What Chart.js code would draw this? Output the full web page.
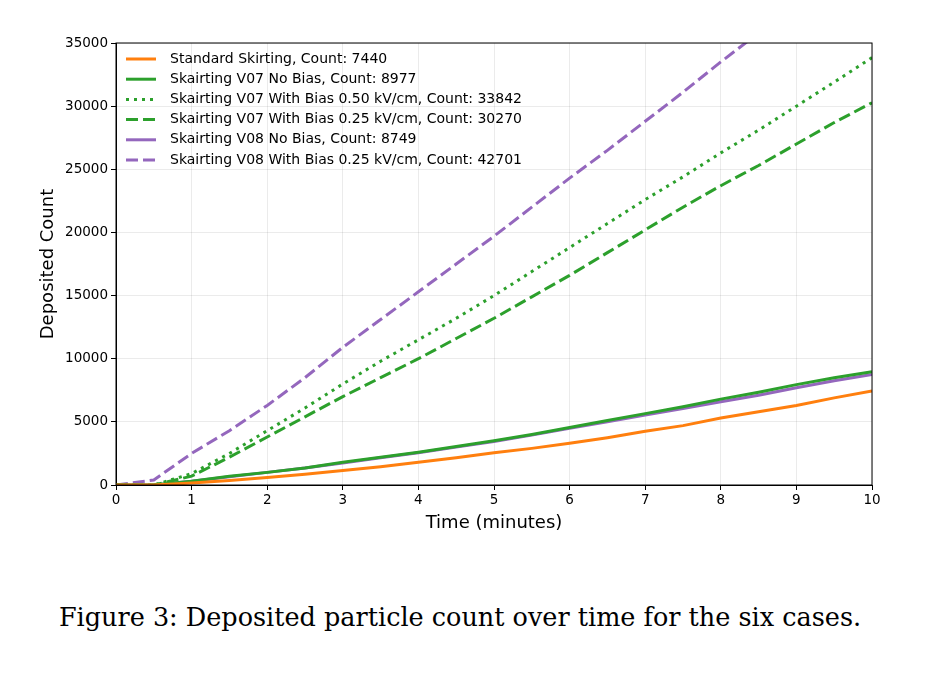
<!DOCTYPE html>
<html><head><meta charset="utf-8">
<script src="https://cdn.jsdelivr.net/npm/chart.js@4"></script>
<style>
body{margin:0;background:#fff;width:945px;height:690px;overflow:hidden}
#wrap{position:absolute;left:0;top:0;width:945px;height:560px}
#cap{position:absolute;left:0;width:920px;top:602px;text-align:center;font-family:"DejaVu Serif","Liberation Serif",serif;font-size:25.5px;color:#000}
</style></head><body>
<div id="wrap"><canvas id="c"></canvas></div>
<div id="cap">Figure 3: Deposited particle count over time for the six cases.</div>
<script>
const times=[0,0.5,1,1.5,2,2.5,3,3.5,4,4.5,5,5.5,6,6.5,7,7.5,8,8.5,9,9.5,10];
const stdSk=[0,0,150,350,600,850,1150,1450,1800,2150,2550,2900,3300,3750,4250,4700,5300,5800,6300,6900,7440];
const v07No=[0,0,300,700,1000,1350,1800,2200,2600,3050,3500,4000,4550,5100,5650,6200,6800,7350,7950,8500,8977];
const v07B50=[0,0,900,2500,4300,6100,8000,9800,11500,13200,15000,16900,18800,20700,22600,24400,26300,28100,30000,31900,33842];
const v07B25=[0,0,700,2200,3800,5400,7000,8500,10000,11600,13200,14900,16600,18400,20200,22000,23700,25300,27000,28700,30270];
const v08No=[0,0,300,650,1000,1350,1750,2150,2550,3000,3450,3950,4500,5000,5550,6050,6600,7100,7700,8250,8749];
const v08B25=[0,400,2500,4300,6300,8500,10900,13100,15300,17500,19700,22000,24300,26500,28800,31100,33500,35800,38100,40400,42701];
const labels=["Standard Skirting, Count: 7440","Skairting V07 No Bias, Count: 8977","Skairting V07 With Bias 0.50 kV/cm, Count: 33842","Skairting V07 With Bias 0.25 kV/cm, Count: 30270","Skairting V08 No Bias, Count: 8749","Skairting V08 With Bias 0.25 kV/cm, Count: 42701"];
const xTicks=[0,1,2,3,4,5,6,7,8,9,10];
const pts=a=>a.map((v,i)=>({x:times[i],y:v}));
const O='#ff7f0e',G='#2ca02c',P='#9467bd';
const ds=[[stdSk,O,[]],[v07No,G,[]],[v07B50,G,[3,5]],[v07B25,G,[12,5]],[v08No,P,[]],[v08B25,P,[12,5]]].map((d,i)=>({label:labels[i],data:pts(d[0]),borderColor:d[1],borderDash:d[2],borderWidth:3,pointRadius:0,fill:false,tension:0}));
const frame={id:'frame',afterDatasetsDraw(ch){const a=ch.chartArea,c=ch.ctx;c.save();c.strokeStyle='#000';c.lineWidth=1;c.strokeRect(a.left,a.top,a.right-a.left,a.bottom-a.top);
c.font='14px "DejaVu Sans"';c.textBaseline='middle';
ch.data.datasets.forEach((d,i)=>{const y=a.top+16+i*20.2,x=a.left+10;c.strokeStyle=d.borderColor;c.lineWidth=3;c.setLineDash(d.borderDash);c.beginPath();c.moveTo(x,y);c.lineTo(x+30,y);c.stroke();c.setLineDash([]);c.fillStyle='#000';c.fillText(d.label,x+44,y);});c.restore();}};
new Chart(document.getElementById('c'),{type:'line',data:{datasets:ds},plugins:[frame],
options:{responsive:true,maintainAspectRatio:false,animation:false,layout:{padding:{left:34,right:73,top:43,bottom:22}},
plugins:{legend:{display:false},tooltip:{enabled:false}},
scales:{x:{type:'linear',min:0,max:10,afterBuildTicks:s=>{s.ticks=xTicks.map(v=>({value:v}))},afterFit:s=>{s.height=53},
grid:{color:'rgba(0,0,0,0.08)',tickColor:'#000',tickLength:5},border:{color:'#000'},
ticks:{color:'#000',font:{family:'DejaVu Sans',size:13.5},padding:2,maxRotation:0},
title:{display:true,text:'Time (minutes)',color:'#000',font:{family:'DejaVu Sans',size:18},padding:{top:0}}},
y:{min:0,max:35000,afterFit:s=>{s.width=82},grid:{color:'rgba(0,0,0,0.08)',tickColor:'#000',tickLength:5},border:{color:'#000'},
ticks:{stepSize:5000,color:'#000',font:{family:'DejaVu Sans',size:13.5},padding:3,callback:v=>String(v)},
title:{display:true,text:'Deposited Count',color:'#000',font:{family:'DejaVu Sans',size:18},padding:{bottom:0}}}}}});
</script></body></html>
